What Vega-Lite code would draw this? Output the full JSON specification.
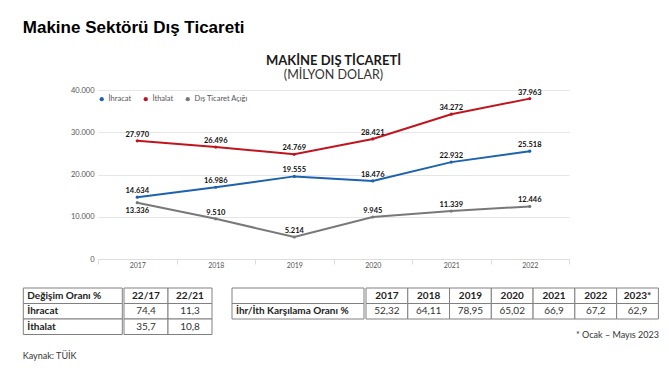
{
  "$schema": "https://vega.github.io/schema/vega-lite/v6.json",
  "background": "white",
  "padding": {"left": 22, "top": 18, "right": 0, "bottom": 0},
  "title": {"text": "Makine Sektörü Dış Ticareti", "anchor": "start", "font": "Liberation Sans", "fontSize": 17, "fontWeight": "bold", "color": "#000000", "offset": 18},
  "datasets": {
    "trade": [
      {"year": "2017", "series": "İhracat", "value": 14634},
      {"year": "2018", "series": "İhracat", "value": 16986},
      {"year": "2019", "series": "İhracat", "value": 19555},
      {"year": "2020", "series": "İhracat", "value": 18476},
      {"year": "2021", "series": "İhracat", "value": 22932},
      {"year": "2022", "series": "İhracat", "value": 25518},
      {"year": "2017", "series": "İthalat", "value": 27970},
      {"year": "2018", "series": "İthalat", "value": 26496},
      {"year": "2019", "series": "İthalat", "value": 24769},
      {"year": "2020", "series": "İthalat", "value": 28421},
      {"year": "2021", "series": "İthalat", "value": 34272},
      {"year": "2022", "series": "İthalat", "value": 37963},
      {"year": "2017", "series": "Dış Ticaret Açığı", "value": 13336},
      {"year": "2018", "series": "Dış Ticaret Açığı", "value": 9510},
      {"year": "2019", "series": "Dış Ticaret Açığı", "value": 5214},
      {"year": "2020", "series": "Dış Ticaret Açığı", "value": 9945},
      {"year": "2021", "series": "Dış Ticaret Açığı", "value": 11339},
      {"year": "2022", "series": "Dış Ticaret Açığı", "value": 12446}
    ],
    "t1L": [
      {"c": "l", "r": "h", "t": "Değişim Oranı %"},
      {"c": "l", "r": "a", "t": "İhracat"},
      {"c": "l", "r": "b", "t": "İthalat"}
    ],
    "t1V": [
      {"c": "22/17", "r": "h", "t": "22/17"},
      {"c": "22/21", "r": "h", "t": "22/21"},
      {"c": "22/17", "r": "a", "v": 74.4},
      {"c": "22/21", "r": "a", "v": 11.3},
      {"c": "22/17", "r": "b", "v": 35.7},
      {"c": "22/21", "r": "b", "v": 10.8}
    ],
    "t2L": [
      {"c": "l", "r": "h", "t": ""},
      {"c": "l", "r": "a", "t": "İhr/İth Karşılama Oranı %"}
    ],
    "t2V": [
      {"c": "2017", "r": "h", "t": "2017"},
      {"c": "2018", "r": "h", "t": "2018"},
      {"c": "2019", "r": "h", "t": "2019"},
      {"c": "2020", "r": "h", "t": "2020"},
      {"c": "2021", "r": "h", "t": "2021"},
      {"c": "2022", "r": "h", "t": "2022"},
      {"c": "2023*", "r": "h", "t": "2023*"},
      {"c": "2017", "r": "a", "v": 52.32},
      {"c": "2018", "r": "a", "v": 64.11},
      {"c": "2019", "r": "a", "v": 78.95},
      {"c": "2020", "r": "a", "v": 65.02},
      {"c": "2021", "r": "a", "v": 66.9},
      {"c": "2022", "r": "a", "v": 67.2},
      {"c": "2023*", "r": "a", "v": 62.9}
    ]
  },
  "spacing": 19,
  "vconcat": [
    {
      "width": 471,
      "height": 169,
      "data": {"name": "trade"},
      "title": {"text": "MAKİNE DIŞ TİCARETİ", "subtitle": "(MİLYON DOLAR)", "anchor": "middle", "frame": "group", "font": "Lato", "fontSize": 13, "fontWeight": "bold", "color": "#1a1a1a", "subtitleFont": "Lato", "subtitleFontSize": 12.5, "subtitleColor": "#333333", "subtitlePadding": 1, "offset": 5},
      "encoding": {
        "x": {"field": "year", "type": "ordinal", "scale": {"type": "band", "paddingInner": 0, "paddingOuter": 0},
          "axis": {"title": null, "tickBand": "extent", "labelAngle": 0, "domainColor": "#dddddd", "tickColor": "#dddddd", "tickSize": 5, "labelFont": "Lato", "labelFontSize": 7, "labelColor": "#555555", "labelPadding": -3, "grid": false}},
        "y": {"field": "value", "type": "quantitative", "scale": {"domain": [0, 40000], "nice": false},
          "axis": {"title": null, "values": [0, 10000, 20000, 30000, 40000], "format": ",d", "domain": false, "ticks": false, "gridColor": "#e6e6e6", "labelFont": "Lato", "labelFontSize": 7.5, "labelColor": "#555555", "labelPadding": 4, "minExtent": 75}}
      },
      "layer": [
        {
          "mark": {"type": "line", "strokeWidth": 2},
          "encoding": {
            "color": {"field": "series", "type": "nominal", "scale": {"domain": ["İhracat", "İthalat", "Dış Ticaret Açığı"], "range": ["#1c62ae", "#c0151e", "#787878"]},
              "legend": {"title": null, "orient": "none", "legendX": 0, "legendY": 5, "direction": "horizontal", "padding": 0, "symbolType": "circle", "symbolSize": 18, "symbolStrokeWidth": 0, "labelFont": "Lato", "labelFontSize": 7.5, "labelColor": "#555555", "labelOffset": 3, "columnPadding": 10}}
          }
        },
        {
          "mark": {"type": "point", "filled": true, "size": 10, "opacity": 1},
          "encoding": {
            "color": {"field": "series", "type": "nominal",
              "legend": {"title": null, "orient": "none", "legendX": 0, "legendY": 5, "direction": "horizontal", "padding": 0, "symbolType": "circle", "symbolSize": 18, "symbolStrokeWidth": 0, "labelFont": "Lato", "labelFontSize": 7.5, "labelColor": "#555555", "labelOffset": 3, "columnPadding": 10}}
          }
        },
        {
          "transform": [{"filter": "!(datum.series === 'Dış Ticaret Açığı' && datum.year === '2017')"}],
          "mark": {"type": "text", "font": "Lato", "fontSize": 7.5, "fontWeight": "bold", "color": "#111111", "baseline": "alphabetic", "dy": -4},
          "encoding": {"text": {"field": "value", "type": "quantitative", "format": ",d"}}
        },
        {
          "transform": [{"filter": "datum.series === 'Dış Ticaret Açığı' && datum.year === '2017'"}],
          "mark": {"type": "text", "font": "Lato", "fontSize": 7.5, "fontWeight": "bold", "color": "#111111", "baseline": "alphabetic", "dy": 10.5},
          "encoding": {"text": {"field": "value", "type": "quantitative", "format": ",d"}}
        }
      ]
    },
    {
      "spacing": 18,
      "title": {"text": "Kaynak: TÜİK", "orient": "bottom", "anchor": "start", "font": "Lato", "fontSize": 9, "fontWeight": "normal", "color": "#333333", "offset": 12},
      "hconcat": [
        {
          "spacing": 0,
          "hconcat": [
            {
              "width": 24.3, "height": 46.5,
              "data": {"name": "t1L"},
              "encoding": {
                "x": {"field": "c", "type": "nominal", "axis": null, "scale": {"range": [-74.7, 24.3], "paddingInner": 0, "paddingOuter": 0}},
                "y": {"field": "r", "type": "nominal", "axis": null, "scale": {"domain": ["h", "a", "b"], "paddingInner": 0, "paddingOuter": 0}}
              },
              "layer": [
                {"mark": {"type": "rect", "fill": "white", "stroke": "#808080", "strokeWidth": 1}},
                {"mark": {"type": "text", "align": "left", "dx": 4, "font": "Lato", "fontSize": 10, "fontWeight": "bold", "color": "#222222"},
                 "encoding": {"x": {"field": "c", "type": "nominal", "axis": null, "bandPosition": 0}, "text": {"field": "t"}}}
              ]
            },
            {
              "width": 88, "height": 46.5,
              "data": {"name": "t1V"},
              "encoding": {
                "x": {"field": "c", "type": "nominal", "axis": null, "scale": {"domain": ["22/17", "22/21"], "paddingInner": 0, "paddingOuter": 0}},
                "y": {"field": "r", "type": "nominal", "axis": null, "scale": {"domain": ["h", "a", "b"], "paddingInner": 0, "paddingOuter": 0}}
              },
              "layer": [
                {"mark": {"type": "rect", "fill": "white", "stroke": "#808080", "strokeWidth": 1}},
                {"transform": [{"filter": "isValid(datum.t)"}],
                 "mark": {"type": "text", "font": "Lato", "fontSize": 10, "fontWeight": "bold", "color": "#222222"},
                 "encoding": {"text": {"field": "t"}}},
                {"transform": [{"filter": "isValid(datum.v)"}],
                 "mark": {"type": "text", "font": "Lato", "fontSize": 10, "fontWeight": "normal", "color": "#333333"},
                 "encoding": {"text": {"field": "v", "type": "quantitative", "format": ".4~r"}}}
              ]
            }
          ]
        },
        {
          "spacing": 0,
          "hconcat": [
            {
              "width": 132, "height": 31,
              "data": {"name": "t2L"},
              "encoding": {
                "x": {"field": "c", "type": "nominal", "axis": null, "scale": {"paddingInner": 0, "paddingOuter": 0}},
                "y": {"field": "r", "type": "nominal", "axis": null, "scale": {"domain": ["h", "a"], "paddingInner": 0, "paddingOuter": 0}}
              },
              "layer": [
                {"mark": {"type": "rect", "fill": "white", "stroke": "#808080", "strokeWidth": 1}},
                {"mark": {"type": "text", "align": "left", "dx": 4, "font": "Lato", "fontSize": 10, "fontWeight": "bold", "color": "#222222"},
                 "encoding": {"x": {"field": "c", "type": "nominal", "axis": null, "bandPosition": 0}, "text": {"field": "t"}}}
              ]
            },
            {
              "width": 292.4, "height": 31,
              "data": {"name": "t2V"},
              "title": {"text": "* Ocak – Mayıs 2023", "orient": "bottom", "anchor": "end", "font": "Lato", "fontSize": 9, "fontWeight": "normal", "color": "#333333", "offset": 11},
              "encoding": {
                "x": {"field": "c", "type": "nominal", "axis": null, "scale": {"domain": ["2017", "2018", "2019", "2020", "2021", "2022", "2023*"], "paddingInner": 0, "paddingOuter": 0}},
                "y": {"field": "r", "type": "nominal", "axis": null, "scale": {"domain": ["h", "a"], "paddingInner": 0, "paddingOuter": 0}}
              },
              "layer": [
                {"mark": {"type": "rect", "fill": "white", "stroke": "#808080", "strokeWidth": 1}},
                {"transform": [{"filter": "isValid(datum.t)"}],
                 "mark": {"type": "text", "font": "Lato", "fontSize": 10, "fontWeight": "bold", "color": "#222222"},
                 "encoding": {"text": {"field": "t"}}},
                {"transform": [{"filter": "isValid(datum.v)"}],
                 "mark": {"type": "text", "font": "Lato", "fontSize": 10, "fontWeight": "normal", "color": "#333333"},
                 "encoding": {"text": {"field": "v", "type": "quantitative", "format": ".4~r"}}}
              ]
            }
          ]
        }
      ]
    }
  ],
  "config": {
    "view": {"stroke": null},
    "locale": {"number": {"decimal": ",", "thousands": ".", "grouping": [3], "currency": ["", " TL"]}}
  }
}
